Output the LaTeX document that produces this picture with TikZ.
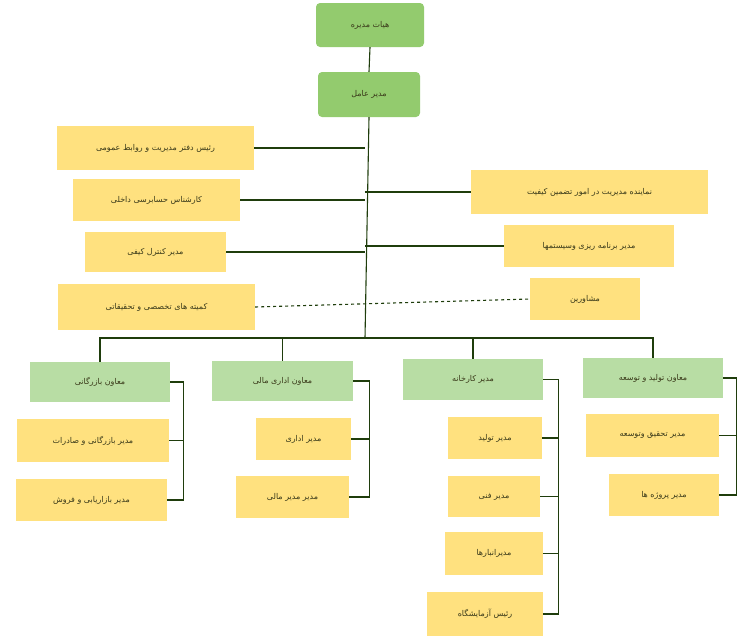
\documentclass[tikz,border=0pt]{standalone}
\usepackage{fontspec}
\TeXXeTstate=1
\newfontfamily\arabicfont[Script=Arabic]{DejaVu Sans}
\definecolor{ln}{HTML}{1F3D0C}
\definecolor{ye}{HTML}{FFE17F}
\definecolor{lg}{HTML}{B8DDA4}
\definecolor{dg}{HTML}{93CB6E}
\definecolor{tx}{HTML}{3A3A1A}
\newcommand{\fa}[1]{\arabicfont\beginR #1\endR}
\tikzset{
 bx/.style={inner sep=0pt,text=tx,font=\arabicfont\fontsize{8}{9}\selectfont},
 yb/.style={bx,fill=ye},
 gb/.style={bx,fill=lg},
 tb/.style={bx,fill=dg,rounded corners=4pt},
 con/.style={draw=ln,line width=1.1pt},
}
\newcommand{\bnode}[6]{% style,name,x1,y1,x2,y2 ; text follows
 \node[#1,minimum width={(#5-#3)*1pt},minimum height={(#6-#4)*1pt}] (#2) at ({(#3+#5)/2},{(#4+#6)/2})}
\begin{document}
\begin{tikzpicture}[x=1pt,y=-1pt]
\useasboundingbox (0,0) rectangle (754,637);
\bnode{tb}{board}{316}{3}{424}{47} {\fa{هیات مدیره}};
\bnode{tb}{ceo}{318}{72}{420}{117} {\fa{مدیر عامل}};
\bnode{yb}{l1}{57}{126}{254}{170} {\fa{رئیس دفتر مدیریت و روابط عمومی}};
\bnode{yb}{l2}{73}{179}{240}{221} {\fa{کارشناس حسابرسی داخلی}};
\bnode{yb}{l3}{85}{232}{226}{272} {\fa{مدیر کنترل کیفی}};
\bnode{yb}{l4}{58}{284}{255}{330} {\fa{کمیته های تخصصی و تحقیقاتی}};
\bnode{yb}{r1}{471}{170}{708}{214} {\fa{نماینده مدیریت در امور تضمین کیفیت}};
\bnode{yb}{r2}{504}{225}{674}{267} {\fa{مدیر برنامه ریزی وسیستمها}};
\bnode{yb}{r3}{530}{278}{640}{320} {\fa{مشاورین}};
\bnode{gb}{v1}{30}{362}{170}{402} {\fa{معاون بازرگانی}};
\bnode{yb}{v1a}{17}{419}{169}{462} {\fa{مدیر بازرگانی و صادرات}};
\bnode{yb}{v1b}{16}{479}{167}{521} {\fa{مدیر بازاریابی و فروش}};
\bnode{gb}{v2}{212}{361}{353}{401} {\fa{معاون اداری مالی}};
\bnode{yb}{v2a}{256}{418}{351}{460} {\fa{مدیر اداری}};
\bnode{yb}{v2b}{236}{476}{349}{518} {\fa{مدیر مدیر مالی}};
\bnode{gb}{v3}{403}{359}{543}{400} {\fa{مدیر کارخانه}};
\bnode{yb}{v3a}{448}{417}{542}{459} {\fa{مدیر تولید}};
\bnode{yb}{v3b}{448}{476}{540}{517} {\fa{مدیر فنی}};
\bnode{yb}{v3c}{445}{532}{543}{575} {\fa{مدیرانبارها}};
\bnode{yb}{v3d}{427}{592}{543}{636} {\fa{رئیس آزمایشگاه}};
\bnode{gb}{v4}{583}{358}{723}{398} {\fa{معاون تولید و توسعه}};
\bnode{yb}{v4a}{586}{414}{719}{457} {\fa{مدیر تحقیق وتوسعه}};
\bnode{yb}{v4b}{609}{474}{719}{516} {\fa{مدیر پروژه ها}};
% trunk
\coordinate (bus) at (365,338);
\draw[con] (board.south) -- (ceo.north);
\draw[con] (ceo.south) -- (bus);
\foreach \n in {l1,l2,l3} \draw[con] (\n.east) -- (\n.east -| bus);
\foreach \n in {r1,r2} \draw[con] (\n.west) -- (\n.west -| bus);
\draw[con,dashed] (l4.east) -- (r3.west);
\draw[con] (v1.north) |- (bus) -| (v4.north);
\draw[con] (v2.north) -- (v2.north |- bus);
\draw[con] (v3.north) -- (v3.north |- bus);
% brackets
\draw[con] (v1.east) -- ++(13,0) |- (v1b.east);
\draw[con] (v1a.east) -- ++(14,0);
\draw[con] (v2.east) -- ++(16,0) |- (v2b.east);
\draw[con] (v2a.east) -- ++(18,0);
\draw[con] (v3.east) -- ++(15,0) |- (v3d.east);
\foreach \n in {v3a,v3b,v3c} \draw[con] (\n.east) -- (\n.east -| 558,0);
\draw[con] (v4.east) -- ++(13,0) |- (v4b.east);
\draw[con] (v4a.east) -- ++(17,0);
\end{tikzpicture}
\end{document}
